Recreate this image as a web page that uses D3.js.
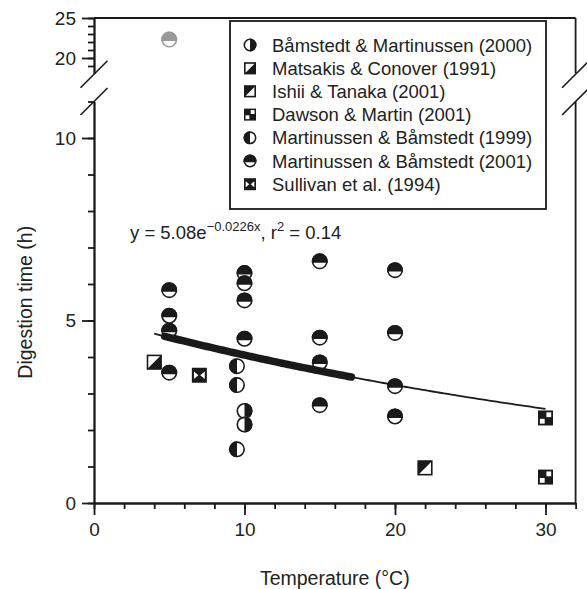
<!DOCTYPE html>
<html>
<head>
<meta charset="utf-8">
<script src="https://cdn.jsdelivr.net/npm/d3@7"></script>
<style>
	body { margin: 0; background: #fff; }
	svg { display: block; font-family: "Liberation Sans", Arial, sans-serif; }
	text { fill: #222; }
</style>
</head>
<body>
<svg id="chart" width="587" height="589"></svg>
<script>
// Data (temperature in °C, digestion time in h)
const studyNames = [
	'Båmstedt & Martinussen (2000)',
	'Matsakis & Conover (1991)',
	'Ishii & Tanaka (2001)',
	'Dawson & Martin (2001)',
	'Martinussen & Båmstedt (1999)',
	'Martinussen & Båmstedt (2001)',
	'Sullivan et al. (1994)'
]
const studySymbols = ['halfRight', 'triLR', 'triUL', 'dawson', 'halfLeft', 'topBlack', 'sullivan']

const bamstedt2000Temp = [10, 10]
const bamstedt2000Time = [2.52, 2.15]
const matsakisTemp = [4]
const matsakisTime = [3.86]
const ishiiTemp = [22]
const ishiiTime = [0.96]
const dawsonTemp = [30, 30]
const dawsonTime = [2.33, 0.71]
const martinussen1999Temp = [9.5, 9.5, 9.5]
const martinussen1999Time = [3.75, 3.23, 1.47]
const martinussen2001Temp = [5, 5, 5, 5, 10, 10, 10, 10, 15, 15, 15, 15, 20, 20, 20, 20]
const martinussen2001Time = [5.83, 5.13, 4.72, 3.57, 6.3, 6.02, 5.55, 4.5, 6.62, 4.53, 3.85, 2.68, 6.38, 4.66, 3.2, 2.37]
const sullivanTemp = [7]
const sullivanTime = [3.5]
// outlier shown in grey above the axis break
const outlierTemp = [5]
const outlierTime = [22.3]

// fitted curve y = a * exp(b * x), thin over the full range, thick over the fitted data
const fitA = 5.08, fitB = -0.0226
const fitRange = [4, 30]
const fitThickRange = [4.7, 17.1]

const xTicksMajor = [0, 10, 20, 30]
const yTicksLow = [0, 5, 10]
const yTicksHigh = [20, 25]

;(function() {
	let svg = d3.select('#chart')
	const ink = '#1a1a1a'

	let x = d3.scaleLinear().domain([0, 32]).range([94, 575.6])
	let yLow = d3.scaleLinear().domain([0, 11]).range([503, 101.5])
	let yHigh = d3.scaleLinear().domain([18.1, 25]).range([73.2, 18])

	// Minor + major ticks on the broken y-axis
	function yAxis(scale, major) {
		let lo = Math.ceil(scale.domain()[0]), hi = Math.floor(scale.domain()[1])
		svg.append('g')
			.attr('transform', 'translate(94,0)')
			.call(d3.axisLeft(scale).tickValues(d3.range(lo, hi + 1)).tickSize(6).tickSizeOuter(0).tickFormat(''))
		svg.append('g')
			.attr('class', 'major')
			.attr('transform', 'translate(94,0)')
			.call(d3.axisLeft(scale).tickValues(major).tickSize(12).tickSizeOuter(0).tickPadding(6)
				.tickFormat(d3.format('d')))
	}
	yAxis(yLow, yTicksLow)
	yAxis(yHigh, yTicksHigh)

	// X-axis, ticks pointing down
	svg.append('g')
		.attr('transform', 'translate(0,503)')
		.call(d3.axisBottom(x).tickValues(d3.range(0, 33, 2)).tickSize(6).tickSizeOuter(0).tickFormat(''))
	svg.append('g')
		.attr('class', 'major')
		.attr('transform', 'translate(0,503)')
		.call(d3.axisBottom(x).tickValues(xTicksMajor).tickSize(12).tickSizeOuter(0).tickPadding(8)
			.tickFormat(d3.format('d')))

	svg.selectAll('.domain, .tick line').attr('stroke', ink).attr('stroke-width', 1.8)
	svg.selectAll('.tick text').attr('font-size', 19).attr('fill', '#222')
		.attr('font-family', '"Liberation Sans", Arial, sans-serif')

	// Frame: top and right side, right side broken as well
	let frame = svg.append('g').attr('stroke', ink).attr('stroke-width', 1.8).attr('fill', 'none')
	frame.append('line').attr('x1', x(0)).attr('x2', x(32)).attr('y1', yHigh(25)).attr('y2', yHigh(25))
	frame.append('line').attr('x1', x(32)).attr('x2', x(32)).attr('y1', yHigh(25)).attr('y2', yHigh(18.1))
	frame.append('line').attr('x1', x(32)).attr('x2', x(32)).attr('y1', yLow(11)).attr('y2', yLow(0))

	// break marks
	;[x(0), x(32)].forEach(cx => {
		;[yHigh(18.1) + 1, yLow(11)].forEach(cy => {
			frame.append('line')
				.attr('x1', cx - 13.5).attr('y1', cy + 13.5)
				.attr('x2', cx + 13.5).attr('y2', cy - 13.5)
				.attr('stroke-width', 1.6)
		})
	})

	// Symbols
	function symbol(g, type, size, color) {
		let r = size / 2
		if (type === 'halfRight' || type === 'halfLeft' || type === 'topBlack') {
			g.append('circle').attr('r', r).attr('fill', '#fff')
			let d
			if (type === 'halfRight') d = `M0,${-r}A${r},${r} 0 0 1 0,${r}Z`
			else if (type === 'halfLeft') d = `M0,${-r}A${r},${r} 0 0 0 0,${r}Z`
			else {
				let c = 0.18 * r, x0 = Math.sqrt(r * r - c * c)
				d = `M${-x0},${c}A${r},${r} 0 1 1 ${x0},${c}Z`
			}
			g.append('path').attr('d', d).attr('fill', color)
			g.append('circle').attr('r', r - 0.8).attr('fill', 'none')
				.attr('stroke', color).attr('stroke-width', 1.6)
			return
		}
		let h = r
		if (type === 'triUL' || type === 'triLR') {
			g.append('rect').attr('x', -h).attr('y', -h).attr('width', 2 * h).attr('height', 2 * h).attr('fill', '#fff')
			let d = type === 'triUL' ? `M${-h},${-h}L${h},${-h}L${-h},${h}Z` : `M${h},${-h}L${h},${h}L${-h},${h}Z`
			g.append('path').attr('d', d).attr('fill', color)
			g.append('rect').attr('x', -h + 0.8).attr('y', -h + 0.8).attr('width', 2 * h - 1.6).attr('height', 2 * h - 1.6)
				.attr('fill', 'none').attr('stroke', color).attr('stroke-width', 1.6)
			return
		}
		g.append('rect').attr('x', -h).attr('y', -h).attr('width', 2 * h).attr('height', 2 * h).attr('fill', color)
		if (type === 'dawson') {
			let s = size * 0.32
			g.append('rect').attr('x', h * 0.12).attr('y', -h * 0.75).attr('width', s).attr('height', s).attr('fill', '#fff')
			g.append('rect').attr('x', -h * 0.75).attr('y', h * 0.12).attr('width', s).attr('height', s).attr('fill', '#fff')
		} else if (type === 'sullivan') {
			let e = h - size * 0.14, w = h * 0.5
			g.append('path').attr('d', `M${-e},${-w}L${-h * 0.12},0L${-e},${w}Z`).attr('fill', '#fff')
			g.append('path').attr('d', `M${e},${-w}L${h * 0.12},0L${e},${w}Z`).attr('fill', '#fff')
		}
	}

	let groups = [
		{ type: 'halfRight', temp: bamstedt2000Temp, time: bamstedt2000Time },
		{ type: 'triLR', temp: matsakisTemp, time: matsakisTime },
		{ type: 'triUL', temp: ishiiTemp, time: ishiiTime },
		{ type: 'dawson', temp: dawsonTemp, time: dawsonTime },
		{ type: 'halfLeft', temp: martinussen1999Temp, time: martinussen1999Time },
		{ type: 'topBlack', temp: martinussen2001Temp, time: martinussen2001Time },
		{ type: 'sullivan', temp: sullivanTemp, time: sullivanTime }
	]

	let points = svg.append('g')
	groups.forEach(grp => {
		let isSquare = !grp.type.startsWith('half') && grp.type !== 'topBlack'
		grp.temp.forEach((t, i) => {
			let g = points.append('g').attr('transform', `translate(${x(t)},${yLow(grp.time[i])})`)
			symbol(g, grp.type, isSquare ? 15 : 16, ink)
		})
	})
	outlierTemp.forEach((t, i) => {
		let g = points.append('g').attr('transform', `translate(${x(t)},${yHigh(outlierTime[i])})`)
		symbol(g, 'topBlack', 16, '#999')
	})

	// Fitted curve
	let line = d3.line().x(d => x(d)).y(d => yLow(fitA * Math.exp(fitB * d)))
	svg.append('path')
		.datum(d3.range(fitRange[0], fitRange[1] + 0.001, 0.25))
		.attr('fill', 'none').attr('stroke', ink).attr('stroke-width', 1.8)
		.attr('d', line)
	svg.append('path')
		.datum(d3.range(fitThickRange[0], fitThickRange[1] + 0.001, 0.2))
		.attr('fill', 'none').attr('stroke', ink).attr('stroke-width', 7.5)
		.attr('stroke-linecap', 'round')
		.attr('d', line)

	// Equation
	let eq = svg.append('text').attr('x', 130).attr('y', 239).attr('font-size', 18.5)
	eq.append('tspan').text('y = 5.08e')
	eq.append('tspan').attr('dy', -8).attr('font-size', 13).text('\u22120.0226x')
	eq.append('tspan').attr('dy', 8).text(', r')
	eq.append('tspan').attr('dy', -8).attr('font-size', 13).text('2')
	eq.append('tspan').attr('dy', 8).text(' = 0.14')

	// Legend
	let legend = svg.append('g')
	legend.append('rect')
		.attr('x', 230).attr('y', 21).attr('width', 316).attr('height', 188)
		.attr('fill', '#fff').attr('stroke', ink).attr('stroke-width', 1.8)
	studyNames.forEach((name, i) => {
		let cy = 45 + i * 23.2
		let g = legend.append('g').attr('transform', `translate(250,${cy})`)
		let round = studySymbols[i].startsWith('half') || studySymbols[i] === 'topBlack'
		symbol(g, studySymbols[i], round ? 13 : 12, ink)
		legend.append('text')
			.attr('x', 272).attr('y', cy)
			.attr('dominant-baseline', 'central')
			.attr('font-size', 18.5)
			.text(name)
	})

	// Axis titles
	svg.append('text')
		.attr('x', x(16)).attr('y', 578)
		.attr('text-anchor', 'middle').attr('dominant-baseline', 'central')
		.attr('font-size', 19.5)
		.text('Temperature (°C)')
	svg.append('text')
		.attr('transform', `translate(25,${yLow(5.5)}) rotate(-90)`)
		.attr('text-anchor', 'middle').attr('dominant-baseline', 'central')
		.attr('font-size', 19.5)
		.text('Digestion time (h)')
})();
</script>
</body>
</html>
